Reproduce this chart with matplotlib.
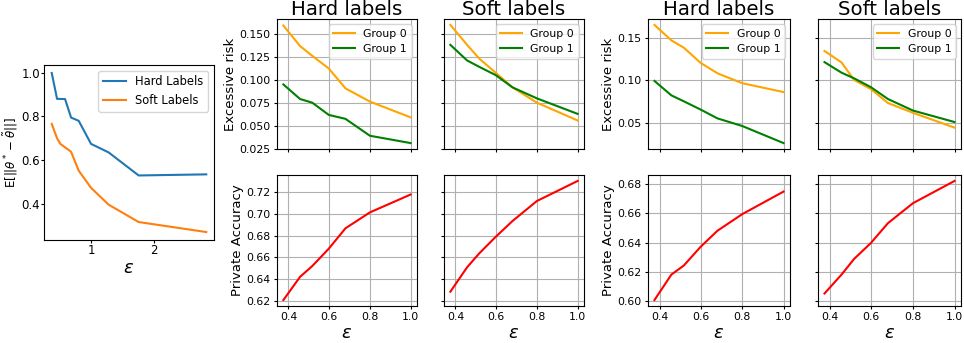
import matplotlib
matplotlib.use("Agg")
import matplotlib.pyplot as plt

# left panel: estimation error vs epsilon
eps_hard_long = [0.372, 0.457, 0.585, 0.681, 0.803, 1.0, 1.28, 1.76, 2.84]
err_hard = [1.0, 0.881, 0.880, 0.795, 0.780, 0.674, 0.635, 0.529, 0.534]
eps_soft_long = [0.372, 0.457, 0.51, 0.681, 0.803, 1.0, 1.28, 1.76, 2.84]
err_soft = [0.766, 0.700, 0.674, 0.638, 0.551, 0.472, 0.395, 0.315, 0.269]

# right panels
eps = [0.375, 0.457, 0.517, 0.598, 0.68, 0.8, 1.0]

# dataset A
riskA_hard_g0 = [0.159, 0.1367, 0.126, 0.1122, 0.0906, 0.0762, 0.059]
riskA_hard_g1 = [0.0949, 0.079, 0.075, 0.0617, 0.0574, 0.039, 0.031]
riskA_soft_g0 = [0.1597, 0.138, 0.123, 0.1075, 0.0917, 0.075, 0.0556]
riskA_soft_g1 = [0.138, 0.121, 0.114, 0.105, 0.0917, 0.0797, 0.0628]
accA_hard = [0.6206, 0.642, 0.652, 0.668, 0.6868, 0.7015, 0.718]
accA_soft = [0.6283, 0.6508, 0.6637, 0.679, 0.6935, 0.712, 0.7305]

# dataset B
riskB_hard_g0 = [0.1656, 0.1473, 0.1387, 0.1208, 0.1084, 0.0967, 0.0862]
riskB_hard_g1 = [0.0994, 0.0823, 0.0753, 0.0656, 0.0551, 0.0461, 0.0259]
riskB_soft_g0 = [0.1348, 0.1212, 0.1006, 0.0897, 0.0733, 0.0617, 0.0442]
riskB_soft_g1 = [0.1216, 0.1091, 0.1025, 0.092, 0.078, 0.0644, 0.0508]
accB_hard = [0.6005, 0.618, 0.6242, 0.637, 0.6481, 0.6595, 0.675]
accB_soft = [0.605, 0.618, 0.6287, 0.6397, 0.6533, 0.667, 0.6823]

W, H = 964, 343
fig = plt.figure(figsize=(W / 100, H / 100), dpi=100)


def px_axes(x0, y0, x1, y1, **kw):
    return fig.add_axes([x0 / W, (H - y1) / H, (x1 - x0) / W, (y1 - y0) / H], **kw)


tick_fs = 7.8
eps_label = r"$\varepsilon$"

# ---- left panel
ax = px_axes(44, 65, 214, 240)
ax.plot(eps_hard_long, err_hard, color="tab:blue", lw=1.5, label="Hard Labels")
ax.plot(eps_soft_long, err_soft, color="tab:orange", lw=1.5, label="Soft Labels")
ax.set_xticks([1, 2])
ax.set_yticks([0.4, 0.6, 0.8, 1.0])
ax.tick_params(labelsize=8.5, length=2, pad=1)
ax.set_xlabel(eps_label, fontsize=13, labelpad=1)
ax.set_ylabel(r"E[$||\theta^* - \tilde{\theta}||$]", fontsize=8.5, labelpad=1)
ax.legend(fontsize=8.3, loc="upper right")


def group(x_hard, x_soft, risk, acc, risk_ticks, acc_ticks, risk_fmt, acc_fmt):
    top_h = px_axes(x_hard[0], 19, x_hard[1], 149)
    top_s = px_axes(x_soft[0], 19, x_soft[1], 149, sharey=top_h)
    bot_h = px_axes(x_hard[0], 175, x_hard[1], 306, sharex=top_h)
    bot_s = px_axes(x_soft[0], 175, x_soft[1], 306, sharex=top_s, sharey=bot_h)

    top_h.plot(eps, risk[0], color="orange", lw=1.5, label="Group 0")
    top_h.plot(eps, risk[1], color="green", lw=1.5, label="Group 1")
    top_s.plot(eps, risk[2], color="orange", lw=1.5, label="Group 0")
    top_s.plot(eps, risk[3], color="green", lw=1.5, label="Group 1")
    bot_h.plot(eps, acc[0], color="red", lw=1.5)
    bot_s.plot(eps, acc[1], color="red", lw=1.5)

    top_h.set_title("Hard labels", fontsize=14.2, pad=2)
    top_s.set_title("Soft labels", fontsize=14.2, pad=2)
    top_h.set_ylabel("Excessive risk", fontsize=9.5, labelpad=2)
    bot_h.set_ylabel("Private Accuracy", fontsize=9.5, labelpad=2)
    top_h.set_yticks(risk_ticks)
    top_h.set_yticklabels([risk_fmt.format(v) for v in risk_ticks])
    bot_h.set_yticks(acc_ticks)
    bot_h.set_yticklabels([acc_fmt.format(v) for v in acc_ticks])

    for a in (top_h, top_s, bot_h, bot_s):
        a.set_xticks([0.4, 0.6, 0.8, 1.0])
        a.grid(True, color="#b0b0b0", lw=0.8)
        a.tick_params(labelsize=tick_fs, length=2.5, pad=2)
    for a in (top_h, top_s):
        a.tick_params(labelbottom=False)
        a.legend(fontsize=tick_fs, loc="upper right")
    for a in (top_s, bot_s):
        a.tick_params(labelleft=False)
    for a in (bot_h, bot_s):
        a.set_xticklabels(["0.4", "0.6", "0.8", "1.0"])
        a.set_xlabel(eps_label, fontsize=13, labelpad=1)


group((277, 417), (444, 584),
      [riskA_hard_g0, riskA_hard_g1, riskA_soft_g0, riskA_soft_g1],
      [accA_hard, accA_soft],
      [0.025, 0.05, 0.075, 0.1, 0.125, 0.15],
      [0.62, 0.64, 0.66, 0.68, 0.70, 0.72], "{:.3f}", "{:.2f}")

group((648, 790), (818, 961),
      [riskB_hard_g0, riskB_hard_g1, riskB_soft_g0, riskB_soft_g1],
      [accB_hard, accB_soft],
      [0.05, 0.10, 0.15],
      [0.60, 0.62, 0.64, 0.66, 0.68], "{:.2f}", "{:.2f}")

fig.savefig("out.png", dpi=100)
